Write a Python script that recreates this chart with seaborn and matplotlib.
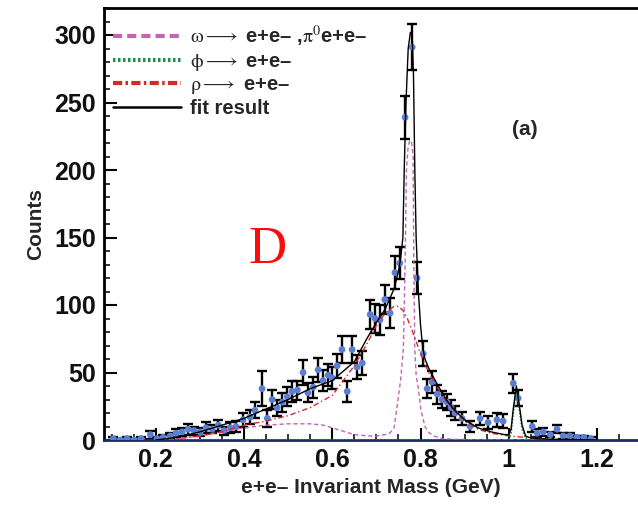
import numpy as np
import pandas as pd
import matplotlib
matplotlib.use("Agg")
import matplotlib.pyplot as plt
import seaborn as sns
from matplotlib.lines import Line2D
from matplotlib.ticker import MultipleLocator

# ---- measured e+e- invariant mass spectrum (bin centres, counts, errors) ----
mass = [0.104, 0.120, 0.135, 0.151, 0.167, 0.188, 0.203, 0.217, 0.233, 0.246,
        0.260, 0.274, 0.287, 0.301, 0.314, 0.328, 0.342, 0.355, 0.369, 0.382,
        0.398, 0.414, 0.425, 0.441, 0.453, 0.464, 0.475, 0.487, 0.498, 0.509,
        0.521, 0.534, 0.545, 0.557, 0.568, 0.579, 0.591, 0.600, 0.611, 0.622,
        0.634, 0.645, 0.656, 0.668, 0.686, 0.697, 0.708, 0.719, 0.731, 0.742,
        0.753, 0.765, 0.781, 0.792, 0.806, 0.815, 0.826, 0.838, 0.849, 0.860,
        0.869, 0.878, 0.894, 0.912, 0.935, 0.953, 0.973, 0.987, 1.010, 1.021,
        1.053, 1.064, 1.078, 1.094, 1.109, 1.123, 1.138, 1.154, 1.170, 1.186]
counts = [1, 0, 1, 0, 1, 4, 1, 2, 3, 5,
          6, 8, 7, 6, 9, 8, 11, 7, 9, 10,
          15, 17, 22, 38, 16, 30, 24, 28, 32, 36,
          37, 50, 35, 39, 52, 44, 48, 46, 55, 67,
          36, 67, 54, 57, 93, 90, 89, 104, 94, 124,
          131, 239, 291, 120, 64, 38, 43, 34, 30, 28,
          24, 20, 16, 10, 16, 13, 15, 14, 42, 31,
          10, 5, 6, 4, 8, 3, 3, 2, 2, 1]
errors = [1, 0, 1, 0, 1, 3, 1, 2, 2, 3,
          3, 4, 3, 3, 4, 3, 4, 3, 4, 4,
          5, 5, 6, 13, 6, 7, 6, 7, 7, 8,
          7, 9, 7, 8, 9, 8, 8, 8, 9, 10,
          8, 10, 9, 9, 11, 11, 11, 11, 11, 12,
          12, 16, 17, 12, 9, 7, 8, 7, 6, 6,
          6, 5, 5, 4, 5, 5, 5, 5, 7, 6,
          4, 3, 3, 2, 3, 2, 2, 1, 1, 1]

# ---- fit components ----
omega_m = [0.20, 0.25, 0.30, 0.35, 0.40, 0.45, 0.50, 0.55, 0.58, 0.60,
           0.62, 0.65, 0.68, 0.70, 0.72, 0.73, 0.74, 0.749, 0.755, 0.761,
           0.765, 0.768, 0.772, 0.776, 0.780, 0.783, 0.785, 0.787, 0.790, 0.795,
           0.801, 0.810, 0.817, 0.830, 0.850, 0.880, 0.950, 1.20]
omega_y = [0, 1, 3, 6, 9, 11, 12, 12, 11, 9,
           7, 4, 3, 3, 4, 5, 9, 30, 45, 67,
           130, 200, 218, 222, 220, 210, 120, 67, 48, 38,
           22, 10, 6, 3, 1, 0.5, 0, 0]

rho_m = [0.20, 0.25, 0.30, 0.35, 0.40, 0.45, 0.50, 0.55, 0.60, 0.65,
         0.68, 0.70, 0.72, 0.74, 0.75, 0.76, 0.77, 0.78, 0.79, 0.80,
         0.81, 0.82, 0.84, 0.86, 0.88, 0.90, 0.93, 0.96, 1.00, 1.05,
         1.10, 1.20]
rho_y = [0, 1, 3, 6, 11, 14, 18, 24, 33, 55,
         72, 85, 94, 99, 99, 96, 90, 82, 73, 64,
         56, 49, 38, 28, 20, 14, 8, 5, 3, 1.5,
         0.5, 0]

phi_m = [0.20, 0.99, 1.000, 1.005, 1.010, 1.017, 1.024, 1.030, 1.038, 1.045, 1.20]
phi_y = [0, 0, 0, 5, 20, 37, 22, 8, 1, 0, 0]

fit_m = [0.20, 0.25, 0.30, 0.35, 0.40, 0.45, 0.50, 0.55, 0.60, 0.65,
         0.68, 0.70, 0.72, 0.74, 0.75, 0.755, 0.760, 0.763, 0.767, 0.772,
         0.777, 0.781, 0.784, 0.787, 0.790, 0.795, 0.800, 0.805, 0.810, 0.820,
         0.840, 0.860, 0.880, 0.900, 0.930, 0.960, 0.990, 1.000, 1.005, 1.010,
         1.017, 1.024, 1.030, 1.038, 1.045, 1.060, 1.100, 1.200]
fit_y = [0, 2, 6, 11, 16, 23, 30, 38, 44, 58,
         76, 87, 97, 112, 125, 135, 150, 200, 250, 290,
         302, 300, 270, 200, 150, 110, 85, 68, 60, 52,
         40, 29, 21, 15, 9, 6, 4, 4, 8, 23,
         40, 25, 11, 3, 2, 1, 0.5, 0]

xtick_values = [0.2, 0.4, 0.6, 0.8, 1.0, 1.2]
xtick_labels = ["0.2", "0.4", "0.6", "0.8", "1", "1.2"]
ytick_values = [0, 50, 100, 150, 200, 250, 300]

legend_labels = [r"$\mathrm{\omega} \longrightarrow$ e+e– ,$\mathrm{\pi}^{0}$e+e–",
                 r"$\mathrm{\phi} \longrightarrow$ e+e–",
                 r"$\mathrm{\rho} \longrightarrow$ e+e–",
                 "fit result"]

C_OMEGA = "#c266b0"
C_PHI = "#1f8f4a"
C_RHO = "#d42a2a"
C_FIT = "#000000"
C_DATA = "#5a7fd2"

sns.set_theme(style="ticks")
plt.rcParams["font.family"] = ["Liberation Sans", "DejaVu Sans"]
plt.rcParams["mathtext.fontset"] = "stix"

data = pd.DataFrame({"mass": mass, "counts": counts, "err": errors})
omega = pd.DataFrame({"mass": omega_m, "y": omega_y})
rho = pd.DataFrame({"mass": rho_m, "y": rho_y})
phi = pd.DataFrame({"mass": phi_m, "y": phi_y})
fit = pd.DataFrame({"mass": fit_m, "y": fit_y})

fig = plt.figure(figsize=(6.38, 5.08), dpi=100)
ax = fig.add_axes([104 / 638, 68 / 508, 534 / 638, 432 / 508])

ax.errorbar(data["mass"], data["counts"], yerr=data["err"], fmt="none",
            ecolor="black", elinewidth=1.7, capsize=3.5, capthick=1.7, zorder=2)
sns.scatterplot(data=data, x="mass", y="counts", color=C_DATA, s=24,
                edgecolor="none", zorder=3, ax=ax, legend=False)

sns.lineplot(data=omega, x="mass", y="y", color=C_OMEGA, lw=1.0,
             linestyle=(0, (3, 2)), estimator=None, ax=ax, zorder=4)
sns.lineplot(data=rho, x="mass", y="y", color=C_RHO, lw=1.0,
             linestyle=(0, (4, 2, 1, 2)), estimator=None, ax=ax, zorder=4)
sns.lineplot(data=phi, x="mass", y="y", color=C_PHI, lw=1.2,
             linestyle=(0, (1, 1)), estimator=None, ax=ax, zorder=4)
sns.lineplot(data=fit, x="mass", y="y", color=C_FIT, lw=1.0,
             estimator=None, ax=ax, zorder=5)

ax.set_xlim(0.083, 0.083 + 534 / 441.5)
ax.set_ylim(0, 320)
ax.set_xticks(xtick_values)
ax.set_xticklabels(xtick_labels)
ax.set_yticks(ytick_values)
ax.xaxis.set_minor_locator(MultipleLocator(0.05))
ax.yaxis.set_minor_locator(MultipleLocator(10))
ax.tick_params(which="major", direction="in", length=9, width=1.5,
               labelsize=18, pad=6, colors="black")
ax.tick_params(which="minor", direction="in", length=4, width=1.3)
ax.tick_params(axis="x", which="both", top=False)
for lab in ax.get_xticklabels() + ax.get_yticklabels():
    lab.set_fontweight("bold")
    lab.set_color("#111111")

for side in ("left", "top"):
    ax.spines[side].set_linewidth(2.0)
    ax.spines[side].set_color("black")
ax.spines["bottom"].set_linewidth(2.0)
ax.spines["bottom"].set_color("#1c2c60")
ax.spines["right"].set_visible(False)

ax.set_xlabel("e+e– Invariant Mass (GeV)", fontsize=15, fontweight="bold",
              labelpad=4)
ax.set_ylabel("Counts", fontsize=15, fontweight="bold", labelpad=6)

handles = [Line2D([], [], color=C_OMEGA, lw=3, linestyle=(0, (2.2, 1.2))),
           Line2D([], [], color=C_PHI, lw=3, linestyle=(0, (0.6, 0.6))),
           Line2D([], [], color=C_RHO, lw=3, linestyle=(0, (2.2, 0.8, 0.6, 0.8))),
           Line2D([], [], color=C_FIT, lw=1.8)]
ax.legend(handles, legend_labels, loc="upper left", bbox_to_anchor=(-0.01, 0.995),
          frameon=False, handlelength=3.4, handletextpad=0.45,
          labelspacing=0.12, borderaxespad=0.3,
          prop={"size": 14.5, "weight": "bold"})

ax.text(0.788, 0.718, "(a)", transform=ax.transAxes, fontsize=15,
        fontweight="bold", ha="center", va="center")
ax.text(0.307, 0.44, "D", transform=ax.transAxes, fontsize=38, color="#ff0a0a",
        family="Liberation Serif", ha="center", va="center")

fig.savefig("out.png", dpi=100)
